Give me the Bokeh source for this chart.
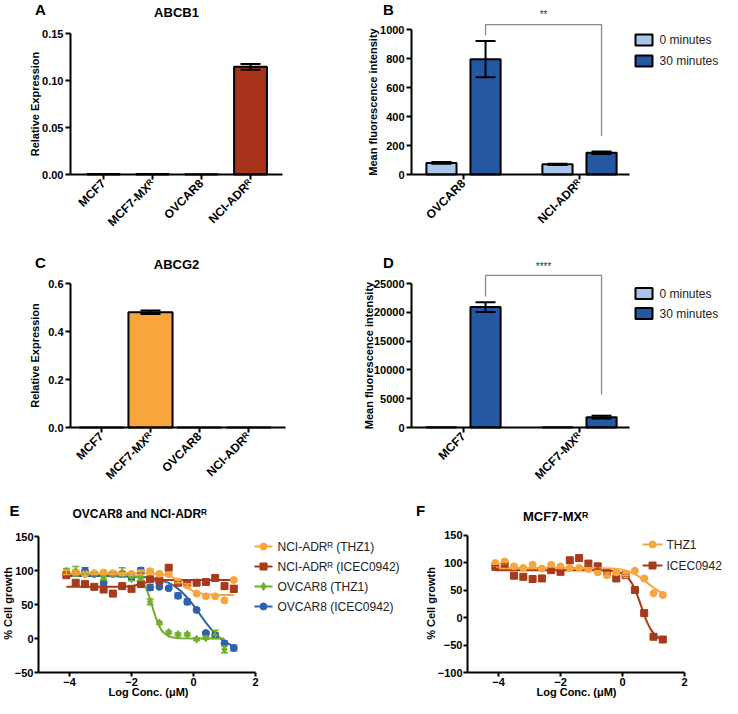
import math
from bokeh.plotting import figure
from bokeh.layouts import column, row
from bokeh.models import (Range1d, FixedTicker, Label, Whisker, TeeHead, ColumnDataSource,
                          NumeralTickFormatter)
from bokeh.embed import file_html
from bokeh.resources import INLINE

FONT = "Liberation Sans"
SR = "\u1d3f"  # superscript R

# ---------------- data ----------------
abc_cells = ["MCF7", "MCF7-MX" + SR, "OVCAR8", "NCI-ADR" + SR]
abcb1_expr = [0.0004, 0.0006, 0.0003, 0.1145]
abcb1_err = [0.0, 0.0, 0.0, 0.003]
abcg2_expr = [0.0004, 0.480, 0.0003, 0.0003]
abcg2_err = [0.0, 0.007, 0.0, 0.0]

b_cells = ["OVCAR8", "NCI-ADR" + SR]
b_0min = [80, 70]
b_0min_err = [6, 5]
b_30min = [795, 150]
b_30min_err = [125, 8]
b_sig = "**"

d_cells = ["MCF7", "MCF7-MX" + SR]
d_0min = [60, 60]
d_0min_err = [0, 0]
d_30min = [20900, 1800]
d_30min_err = [850, 250]
d_sig = "****"

time_labels = ["0 minutes", "30 minutes"]

log_conc = [-4.1, -3.8, -3.5, -3.2, -2.9, -2.6, -2.3, -2.0, -1.7, -1.4,
            -1.1, -0.8, -0.5, -0.2, 0.1, 0.4, 0.7, 1.0, 1.3]

# Panel E
e_nci_thz1 = [97, 97, 95, 96, 97, 96, 95, 95, 97, 99, 95, 95, 84, 78, 66, 62, 62, 56, 86]
e_nci_thz1_err = [3, 3, 2, 2, 2, 2, 2, 2, 3, 3, 2, 2, 2, 2, 2, 2, 2, 2, 2]
e_nci_icec = [93, 82, 80, 76, 72, 66, 77, 73, 80, 87, 85, 104, 82, 81, 82, 83, 89, 77, 73]
e_nci_icec_err = [3, 3, 2, 2, 3, 2, 2, 2, 3, 2, 2, 4, 2, 2, 2, 2, 3, 4, 5]
e_ov_thz1 = [99, 99, 95, 96, 89, 95, 97, 88, 88, 54, 23, 9, 6, 6, -1, 1, 6, -16]
e_ov_thz1_err = [4, 7, 2, 2, 3, 3, 7, 3, 3, 4, 2, 2, 2, 2, 2, 2, 6, 5]
e_ov_icec = [96, 97, 99, 95, 82, 95, 95, 90, 100, 75, 76, 74, 63, 54, 42, 8, 5, -7, -14]
e_ov_icec_err = [3, 3, 5, 3, 3, 3, 3, 3, 4, 4, 2, 2, 4, 4, 2, 2, 3, 3, 4]

e_nci_thz1_fit_x = [-4.1, -3.0, -2.0, -1.6, -1.2, -1.0, -0.8, -0.6, -0.4, -0.2, 0.0, 0.2, 0.4, 0.6, 0.9, 1.3]
e_nci_thz1_fit_y = [96, 96, 96, 95.9, 95.3, 94.5, 92.4, 88.3, 81.8, 74.7, 69.3, 66.4, 65.0, 64.4, 64.1, 64]
e_nci_icec_fit_x = [-4.1, -2.4, -2.2, -2.0, -1.8, -1.6, -1.4, -1.2, -1.0, 1.3]
e_nci_icec_fit_y = [76, 76, 76.3, 77, 79, 81.5, 84, 85.5, 86, 86]
e_ov_thz1_fit_x = [-4.1, -2.4, -2.2, -2.0, -1.8, -1.6, -1.5, -1.4, -1.3, -1.2, -1.1, -1.0, -0.8, -0.6, -0.4, 0.0, 1.0]
e_ov_thz1_fit_y = [95, 94.9, 94.6, 93.7, 90.6, 80.8, 71.2, 58.0, 42.9, 28.7, 17.6, 10.1, 3.0, 0.9, 0.3, 0, 0]
e_ov_icec_fit_x = [-4.1, -3.0, -2.0, -1.6, -1.2, -0.8, -0.6, -0.4, -0.2, 0.0, 0.2, 0.4, 0.6, 0.8, 1.0, 1.3]
e_ov_icec_fit_y = [92, 91.9, 91.3, 90.3, 87.7, 81.8, 76.7, 69.5, 60, 48.7, 36, 23.3, 11.9, 2.5, -4.7, -11.8]

e_names = ["NCI-ADR" + SR + " (THZ1)", "NCI-ADR" + SR + " (ICEC0942)", "OVCAR8 (THZ1)", "OVCAR8 (ICEC0942)"]

# Panel F
f_thz1 = [99, 102, 93, 90, 96, 89, 96, 93, 90, 90, 88, 82, 77, 82, 78, 85, 71, 44, 41]
f_thz1_err = [2, 2, 2, 2, 2, 2, 2, 2, 2, 2, 2, 2, 4, 2, 2, 2, 2, 2, 2]
f_icec = [92, 95, 76, 74, 70, 71, 86, 83, 104, 108, 98, 93, 83, 71, 77, 50, 8, -35, -40]
f_icec_err = [3, 3, 4, 4, 5, 4, 3, 3, 5, 5, 5, 5, 3, 2, 2, 3, 3, 3, 3]
f_thz1_fit_x = [-4.1, -2.0, -1.0, -0.5, -0.2, 0.0, 0.2, 0.4, 0.6, 0.8, 1.0, 1.2, 1.3]
f_thz1_fit_y = [90, 90, 89.8, 89.3, 88.5, 87, 84, 79, 72, 63, 54, 47, 44]
f_icec_fit_x = [-4.1, -1.0, -0.6, -0.4, -0.2, 0.0, 0.2, 0.3, 0.4, 0.5, 0.6, 0.7, 0.8, 0.9, 1.0, 1.15, 1.3]
f_icec_fit_y = [86, 86, 85.7, 85.2, 83.8, 80.0, 70.8, 62.6, 51.4, 37.1, 21, 4.9, -9.3, -20.7, -28.9, -36.4, -40.4]
f_names = ["THZ1", "ICEC0942"]

# colours
C_BROWN = "#A7341A"
C_ORANGE = "#F8A53C"
C_LIGHT = "#A9C5EA"
C_DARK = "#2458A3"
C_RED = "#A83A1C"
C_GREEN = "#72AE2C"
C_BLUE = "#2E62AC"


# ---------------- helpers ----------------
def lin(px, m):
    return m[1] + (px - m[0]) * (m[3] - m[1]) / (m[2] - m[0])


def make_panel(fig_box, xmap, ymap, xb, yb, xticks, yticks, xlab_size="11px"):
    """Frame fills the figure; axes are drawn at fixed data locations inside it."""
    fx0, fy0, fx1, fy1 = fig_box
    p = figure(width=fx1 - fx0, height=fy1 - fy0,
               x_range=Range1d(lin(fx0, xmap), lin(fx1, xmap)),
               y_range=Range1d(lin(fy1, ymap), lin(fy0, ymap)),
               min_border=0, title=None,
               output_backend="svg", toolbar_location=None)
    p.xgrid.visible = False
    p.ygrid.visible = False
    p.outline_line_color = None
    p.xaxis.fixed_location = yb[0]
    p.yaxis.fixed_location = xb[0]
    p.xaxis.bounds = xb
    p.yaxis.bounds = yb
    p.xaxis.ticker = FixedTicker(ticks=xticks)
    p.yaxis.ticker = FixedTicker(ticks=yticks)
    for ax in p.axis:
        ax.axis_line_width = 2
        ax.axis_line_color = "black"
        ax.major_tick_line_width = 2
        ax.major_tick_line_color = "black"
        ax.major_tick_out = 5
        ax.major_tick_in = 0
        ax.minor_tick_line_color = None
        ax.major_label_text_font = FONT
        ax.major_label_text_font_style = "bold"
        ax.major_label_text_font_size = "11px"
        ax.major_label_text_color = "black"
        ax.major_label_standoff = 2
    p.xaxis.major_label_text_font_size = xlab_size

    def d(sx, sy):
        return lin(sx, xmap), lin(sy, ymap)
    return p, d


def label(p, d, sx, sy, text, size="11px", bold=True, angle=0.0, align="center",
          baseline="middle", color="black"):
    x, y = d(sx, sy)
    p.add_layout(Label(x=x, y=y, text=text, text_font=FONT, text_font_size=size,
                       text_font_style="bold" if bold else "normal", angle=angle,
                       text_align=align, text_baseline=baseline, text_color=color))


def whisker(p, xs, ys, errs, color, cap, width):
    up = [y + e for y, e in zip(ys, errs)]
    lo = [y - e for y, e in zip(ys, errs)]
    src = ColumnDataSource(dict(base=list(xs), upper=up, lower=lo))
    w = Whisker(source=src, base="base", upper="upper", lower="lower", dimension="height",
                line_color=color, line_width=width,
                upper_head=TeeHead(size=cap, line_color=color, line_width=width),
                lower_head=TeeHead(size=cap, line_color=color, line_width=width),
                level="annotation")
    p.add_layout(w)


def rot_labels(p, ticks, names):
    p.xaxis.major_label_overrides = {t: n for t, n in zip(ticks, names)}
    p.xaxis.major_label_orientation = math.pi / 4


# ---------------- Panel A ----------------
pos4 = [1, 2, 3, 4]
ma = (103, 1, 152, 2)
pa, da = make_panel((0, 0, 292, 247), ma, (174, 0, 33, 0.15),
                    (lin(70, ma), lin(282, ma)), (0, 0.15), pos4, [0, 0.05, 0.10, 0.15], "12px")
pa.yaxis.formatter = NumeralTickFormatter(format="0.00")
rot_labels(pa, pos4, abc_cells)
pa.vbar(x=pos4, top=abcb1_expr, width=0.67, fill_color=C_BROWN, line_color="black", line_width=2)
ia = [i for i, e in enumerate(abcb1_err) if e > 0]
whisker(pa, [pos4[i] for i in ia], [abcb1_expr[i] for i in ia], [abcb1_err[i] for i in ia], "black", 20, 2)
label(pa, da, 40, 9, "A", size="15px")
label(pa, da, 176, 12, "ABCB1", size="13px")
label(pa, da, 34, 103.5, "Relative Expression", angle=math.pi / 2)

# ---------------- Panel C ----------------
mc = (101, 1, 150, 2)
pc, dc = make_panel((0, 247, 292, 484), mc, (427, 0, 283, 0.6),
                    (lin(70, mc), lin(285, mc)), (0, 0.6), pos4, [0, 0.2, 0.4, 0.6], "12px")
pc.yaxis.formatter = NumeralTickFormatter(format="0.0")
rot_labels(pc, pos4, abc_cells)
pc.vbar(x=pos4, top=abcg2_expr, width=0.9, fill_color=C_ORANGE, line_color="black", line_width=2)
ic = [i for i, e in enumerate(abcg2_err) if e > 0]
whisker(pc, [pos4[i] for i in ic], [abcg2_expr[i] for i in ic], [abcg2_err[i] for i in ic], "black", 20, 2)
label(pc, dc, 40, 262, "C", size="15px")
label(pc, dc, 176, 264, "ABCG2", size="13px")
label(pc, dc, 34, 355, "Relative Expression", angle=math.pi / 2)


# ---------------- Panels B and D ----------------
def flow_panel(fig_box, top_px, axis_px, ytop, yticks, cells, v0, e0, v30, e30, sig, letter,
               sig_left_gap, sig_right_gap, sig_top, sig_text_y, leg_y, ylab_x, letter_y):
    mx = (463, 0, 579, 1)
    p, d = make_panel(fig_box, mx, (axis_px, 0, top_px, ytop),
                      (lin(411, mx), lin(629, mx)), (0, ytop), [0, 1], yticks, "12px")
    rot_labels(p, [0, 1], cells)
    off = 0.19
    xa = [i - off for i in range(len(cells))]
    xb = [i + off for i in range(len(cells))]
    p.vbar(x=xa, top=v0, width=0.26, fill_color=C_LIGHT, line_color="black", line_width=2)
    p.vbar(x=xb, top=v30, width=0.26, fill_color=C_DARK, line_color="black", line_width=2)
    i0 = [i for i, e in enumerate(e0) if e > 0]
    whisker(p, [xa[i] for i in i0], [v0[i] for i in i0], [e0[i] for i in i0], "black", 20, 2)
    whisker(p, xb, v30, e30, "black", 20, 2)
    # significance bracket between the two 30-minute bars
    yl = v30[0] + e30[0] + sig_left_gap
    yr = v30[1] + e30[1] + sig_right_gap
    p.line(x=[xb[0], xb[0], xb[1], xb[1]], y=[yl, sig_top, sig_top, yr],
           line_color="#8a8a8a", line_width=1.3)
    sx_mid = (463 + 579) / 2 + off * 116
    label(p, d, sx_mid, sig_text_y, sig, size="10px", bold=False, color="#333333")
    # legend
    for k, (col, txt) in enumerate(zip([C_LIGHT, C_DARK], time_labels)):
        lx, ly = d(643.5, leg_y[k])
        p.rect(x=[lx], y=[ly], width=17, height=11, width_units="screen", height_units="screen",
               fill_color=col, line_color="black", line_width=2)
        label(p, d, 659, leg_y[k], txt, size="12px", bold=False, align="left", color="#222222")
    label(p, d, 388, letter_y, letter, size="15px")
    label(p, d, ylab_x, (top_px + axis_px) / 2, "Mean fluorescence intensity", angle=math.pi / 2)
    return p


pb = flow_panel((292, 0, 722, 247), 29, 174, 1000, [0, 200, 400, 600, 800, 1000], b_cells,
                b_0min, b_0min_err, b_30min, b_30min_err, b_sig, "B",
                40, 105, 1034, 14, [39.5, 60.5], 372, 9)
pd = flow_panel((292, 247, 722, 484), 283, 427, 25000, [0, 5000, 10000, 15000, 20000, 25000], d_cells,
                d_0min, d_0min_err, d_30min, d_30min_err, d_sig, "D",
                1000, 3700, 26400, 266, [293, 313], 368, 262)


# ---------------- Panels E and F ----------------
def series(p, xs, ys, errs, fx, fy, color, marker, size):
    p.line(x=fx, y=fy, line_color=color, line_width=2)
    whisker(p, xs[:len(ys)], ys, errs, color, 7, 1.5)
    p.scatter(x=xs[:len(ys)], y=ys, marker=marker, size=size, fill_color=color, line_color=color)


def legend_entry(p, d, x0, x1, xt, sy, color, marker, size, text):
    (ax, ay), (bx, _) = d(x0, sy), d(x1, sy)
    p.line(x=[ax, bx], y=[ay, ay], line_color=color, line_width=2)
    p.scatter(x=[(ax + bx) / 2], y=[ay], marker=marker, size=size, fill_color=color, line_color=color)
    label(p, d, xt, sy, text, size="12px", bold=False, align="left", color="#222222")


def dose_axes(p):
    for ax in p.axis:
        ax.major_tick_out = 4
        ax.major_label_standoff = 1


pe, de = make_panel((0, 484, 402, 698), (131, -2, 193, 0), (672, -50, 570, 100),
                    (-5, 2), (-50, 150), [-4, -2, 0, 2], [-50, 0, 50, 100, 150])
dose_axes(pe)
series(pe, log_conc, e_ov_icec, e_ov_icec_err, e_ov_icec_fit_x, e_ov_icec_fit_y, C_BLUE, "circle", 7)
series(pe, log_conc, e_ov_thz1, e_ov_thz1_err, e_ov_thz1_fit_x, e_ov_thz1_fit_y, C_GREEN, "diamond", 8)
series(pe, log_conc, e_nci_icec, e_nci_icec_err, e_nci_icec_fit_x, e_nci_icec_fit_y, C_RED, "square", 7)
series(pe, log_conc, e_nci_thz1, e_nci_thz1_err, e_nci_thz1_fit_x, e_nci_thz1_fit_y, C_ORANGE, "circle", 7)
e_cols = [C_ORANGE, C_RED, C_GREEN, C_BLUE]
e_marks = [("circle", 7), ("square", 7), ("diamond", 8), ("circle", 7)]
for k in range(4):
    legend_entry(pe, de, 254, 272, 277, 546 + 20 * k, e_cols[k], e_marks[k][0], e_marks[k][1], e_names[k])
label(pe, de, 14, 510, "E", size="15px")
label(pe, de, 72, 513, "OVCAR8 and NCI-ADR" + SR, size="12px", align="left")
label(pe, de, 7, 603, "% Cell growth", angle=math.pi / 2)
label(pe, de, 148, 691, "Log Conc. (\u03bcM)")

pf, dfm = make_panel((402, 484, 722, 698), (498, -4, 622, 0), (672, -100, 562, 100),
                     (-5, 2), (-100, 150), [-4, -2, 0, 2], [-100, -50, 0, 50, 100, 150])
dose_axes(pf)
series(pf, log_conc, f_icec, f_icec_err, f_icec_fit_x, f_icec_fit_y, C_RED, "square", 7)
series(pf, log_conc, f_thz1, f_thz1_err, f_thz1_fit_x, f_thz1_fit_y, C_ORANGE, "circle", 7)
legend_entry(pf, dfm, 642, 662, 666, 544, C_ORANGE, "circle", 7, f_names[0])
legend_entry(pf, dfm, 642, 662, 666, 565, C_RED, "square", 7, f_names[1])
label(pf, dfm, 420, 510, "F", size="15px")
label(pf, dfm, 555, 516, "MCF7-MX" + SR, size="13px")
label(pf, dfm, 430, 603, "% Cell growth", angle=math.pi / 2)
label(pf, dfm, 576, 691, "Log Conc. (\u03bcM)")

layout = column(row(pa, pb), row(pc, pd), row(pe, pf))
open("out.html", "w").write(file_html(layout, INLINE))
